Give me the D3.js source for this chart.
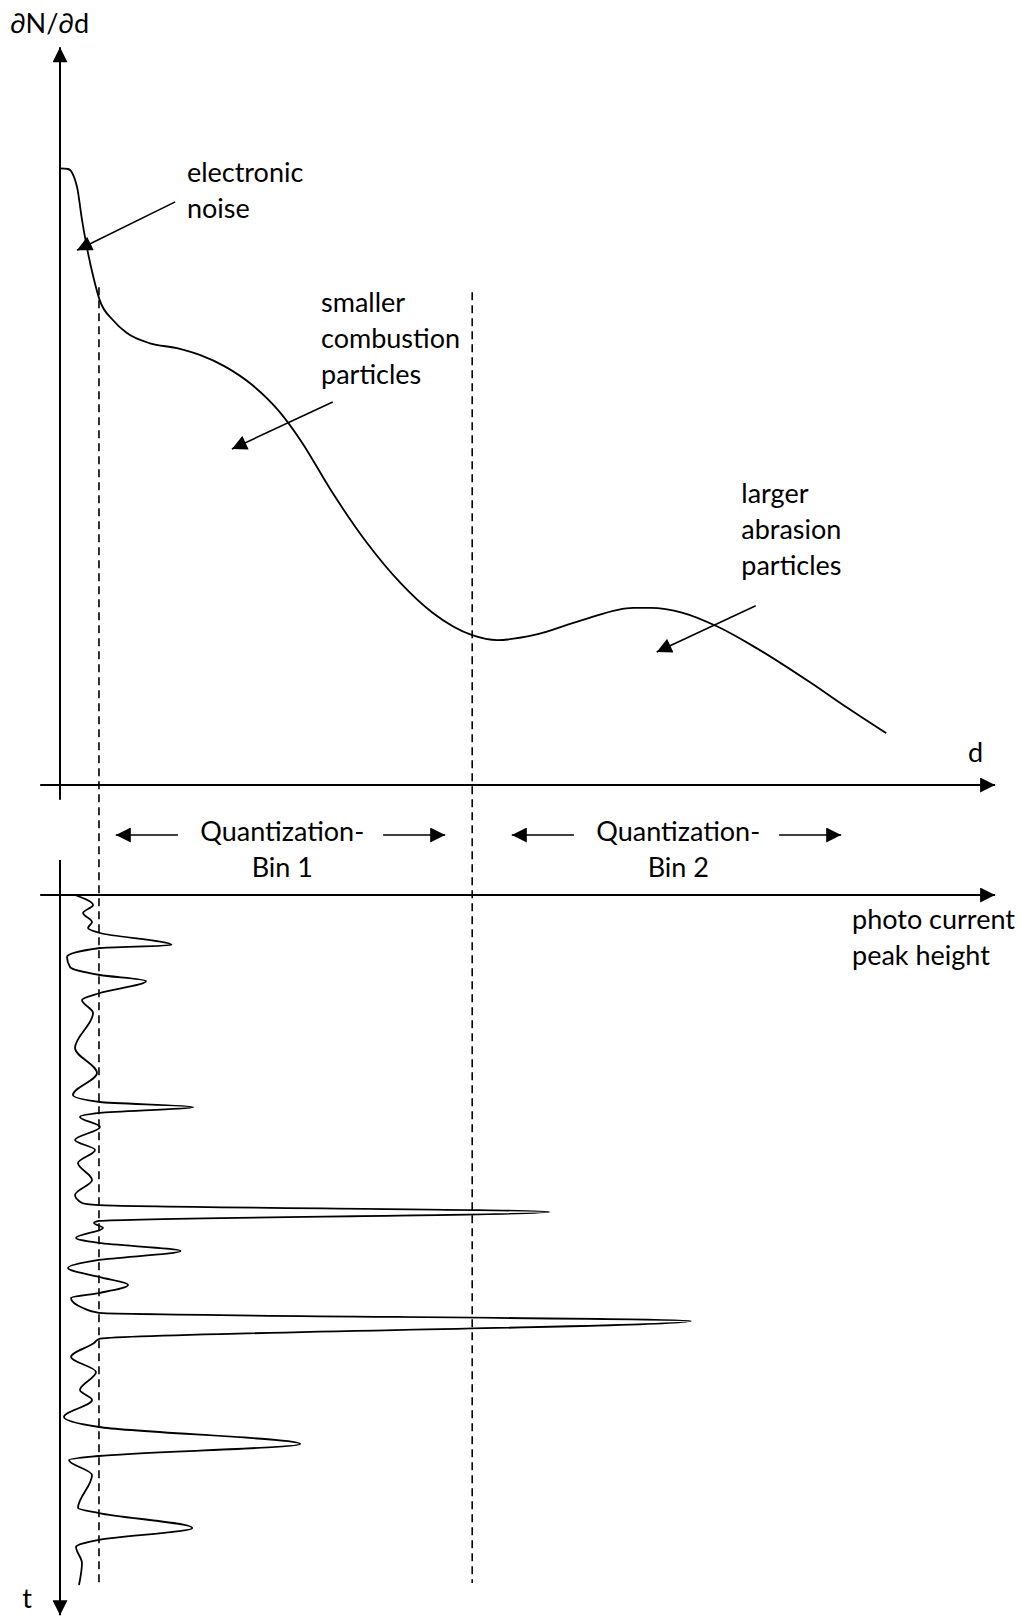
<!DOCTYPE html>
<html>
<head>
<meta charset="utf-8">
<script src="https://cdn.jsdelivr.net/npm/d3@7"></script>
<style>
  body { margin: 0; background: #fff; }
  svg text { font-family: Lato, "Open Sans", sans-serif; font-size: 27px; fill: #000; }
</style>
</head>
<body>
<div id="chart"></div>
<script>
// particle size distribution dN/dd over diameter d (arbitrary units)
const sizeD = [0, 0.9, 1.9, 2.4, 2.9, 3.7, 4.4, 5.9, 7.4, 10, 13, 15.6, 18.3, 21.4, 24.4, 26.7, 30.3, 34.1, 37.8, 41.4, 45.8, 48.6, 52.6, 58.1, 63.7, 65.6, 69.2, 73.1, 77.2, 83.3, 87.4, 91.8];
const densityN = [88.1, 88, 85.4, 81.1, 77.4, 72.6, 69.3, 66.4, 64.6, 63.1, 62.4, 61.4, 59.8, 57.1, 53.3, 49.3, 41.7, 34.6, 28.9, 24.6, 21.4, 20.7, 21.4, 23.6, 25.3, 25.3, 24.6, 22.6, 19.7, 14.7, 11.1, 7.4];

// photo current signal over time t (peak height h, same units as d)
const signalT = [0, 1.43, 2.57, 3.86, 4.71, 5.43, 7.14, 7.57, 8.86, 10.29, 11.43, 12.29, 14, 15, 16.86, 21.86, 25.43, 28.57, 29.57, 30.29, 31.14, 31.71, 33.14, 35, 36.43, 38.29, 40.71, 42.86, 44, 44.29, 45.29, 46.57, 46.86, 47.57, 49, 49.71, 50.86, 52.14, 53.29, 54.57, 55.71, 56.86, 57.57, 59, 59.71, 60.86, 63.43, 64, 66, 68.14, 70.71, 72.14, 74.57, 76, 78.43, 80.14, 80.71, 82.86, 87.57, 88.29, 90.43, 92.14, 93.14, 95.43, 98.57];
const signalH = [1.67, 3.67, 2.56, 3.56, 3.11, 4.44, 12.4, 4.44, 0.78, 1.11, 4.44, 9.56, 4.44, 2.44, 3.67, 1.67, 4.11, 1.44, 4.44, 14.8, 4.44, 2.22, 4.44, 1.67, 3.89, 2, 3.56, 1.67, 2.44, 4.33, 54.4, 4.33, 3.78, 4.78, 1.78, 4.33, 13.4, 4.33, 0.89, 4.33, 7.56, 4.33, 1.22, 2.56, 4.33, 70.1, 4.33, 3.78, 1.22, 4, 2.22, 3.56, 0.44, 4.33, 26.7, 4.33, 1, 3.56, 2, 4.33, 14.7, 4.33, 1.78, 2.44, 2.11];

// quantization bin edges (in d) and bin names
const binEdges = [4.33, 45.8];
const binNames = ["Bin 1", "Bin 2"];
const binCenters = [24.7, 68.7];

const width = 1020, height = 1618;

const svg = d3.select("#chart")
  .append("svg")
  .attr("width", width)
  .attr("height", height);

// scales (shared horizontal scale for d and peak height)
const x = d3.scaleLinear().domain([0, 100]).range([60, 960]);
const yN = d3.scaleLinear().domain([0, 100]).range([785, 85]);
const yT = d3.scaleLinear().domain([0, 100]).range([895, 1595]);

const defs = svg.append("defs");
defs.append("marker")
  .attr("id", "arrow")
  .attr("viewBox", "0 0 10 10")
  .attr("refX", 10)
  .attr("refY", 5)
  .attr("markerUnits", "userSpaceOnUse")
  .attr("markerWidth", 16)
  .attr("markerHeight", 15)
  .attr("orient", "auto")
  .append("path")
  .attr("d", "M0,0L10,5L0,10Z")
  .attr("fill", "#000");

const arrowLine = (g, x1, y1, x2, y2, w) => g.append("line")
  .attr("x1", x1).attr("y1", y1)
  .attr("x2", x2).attr("y2", y2)
  .attr("stroke", "#000")
  .attr("stroke-width", w)
  .attr("marker-end", "url(#arrow)");

// axes
const axes = svg.append("g");
arrowLine(axes, x(0), yN(-2.1), x(0), yN(105.4), 2);          // dN/dd
arrowLine(axes, x(-2.2), yN(0), x(103.9), yN(0), 2);          // d
arrowLine(axes, x(-2.2), yT(0), x(103.9), yT(0), 2);          // photo current
arrowLine(axes, x(0), yT(-5), x(0), yT(102.9), 2);            // t

// bin borders
svg.append("g")
  .selectAll("line")
  .data(binEdges)
  .enter().append("line")
  .attr("x1", d => x(d)).attr("x2", d => x(d))
  .attr("y1", (d, i) => yN(i === 0 ? 71.1 : 70.4))
  .attr("y2", yT(98.3))
  .attr("stroke", "#000")
  .attr("stroke-width", 1.6)
  .attr("stroke-dasharray", "8,5");

// size distribution curve
const dist = sizeD.map((d, i) => ({ d: d, n: densityN[i] }));
svg.append("path")
  .datum(dist)
  .attr("fill", "none")
  .attr("stroke", "#000")
  .attr("stroke-width", 1.8)
  .attr("d", d3.line()
    .x(p => x(p.d))
    .y(p => yN(p.n))
    .curve(d3.curveMonotoneX));

// photo current signal
const sig = signalT.map((t, i) => ({ t: t, h: signalH[i] }));
svg.append("path")
  .datum(sig)
  .attr("fill", "none")
  .attr("stroke", "#000")
  .attr("stroke-width", 1.8)
  .attr("d", d3.line()
    .x(p => x(p.h))
    .y(p => yT(p.t))
    .curve(d3.curveMonotoneY));

// labels
const lineGap = 36;
const addLabel = (lines, px, py, anchor) => {
  const t = svg.append("text")
    .attr("x", px).attr("y", py)
    .attr("text-anchor", anchor || "start");
  lines.forEach((s, i) => t.append("tspan")
    .attr("x", px)
    .attr("dy", i === 0 ? 0 : lineGap)
    .text(s));
};

addLabel(["∂N/∂d"], x(-5.56), yN(107.4));
addLabel(["d"], x(100.9), yN(3.29));
addLabel(["electronic", "noise"], x(14.1), yN(86.1));
addLabel(["smaller", "combustion", "particles"], x(29), yN(67.6));
addLabel(["larger", "abrasion", "particles"], x(75.7), yN(40.3));
addLabel(["photo current", "peak height"], x(88), yT(4.86));
addLabel(["t"], x(-4.2), yT(101.8));

// annotation arrows
const notes = svg.append("g");
arrowLine(notes, x(12.8), yN(83.3), x(1.89), yN(76.4), 1.6);
arrowLine(notes, x(30.3), yN(54.7), x(19.1), yN(48), 1.6);
arrowLine(notes, x(77.3), yN(25.6), x(66.3), yN(19), 1.6);

// quantization bins
binNames.forEach((name, i) => {
  const c = binCenters[i];
  addLabel(["Quantization-", name], x(c), yT(-7.71), "middle");
  arrowLine(notes, x(c - 11.6), yT(-8.57), x(c - 18.5), yT(-8.57), 1.6);
  arrowLine(notes, x(c + 11.2), yT(-8.57), x(c + 18.1), yT(-8.57), 1.6);
});
</script>
</body>
</html>
